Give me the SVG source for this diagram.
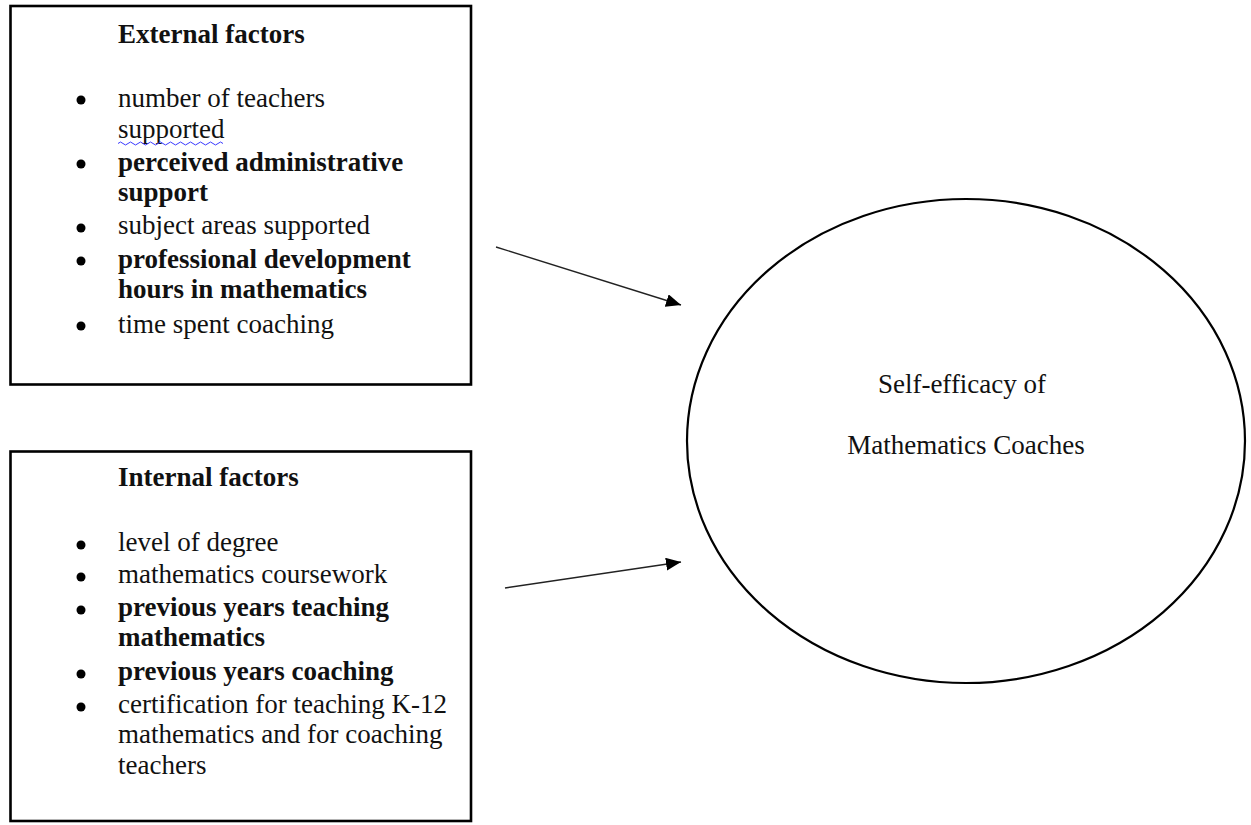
<svg xmlns="http://www.w3.org/2000/svg" width="1251" height="825" viewBox="0 0 1251 825">
<defs>
<marker id="ah" markerWidth="15" markerHeight="13" refX="15" refY="6.5" orient="auto" markerUnits="userSpaceOnUse">
<path d="M0,0 L15,6.5 L0,13 Z" fill="#000"/>
</marker>
<style>
.box{fill:#fff;stroke:#000;stroke-width:2.6}
.t{font-family:"Liberation Serif","Times New Roman",serif;font-size:27px;fill:#111}
.b{font-weight:bold}
.bul{fill:#000}
.conn{stroke:#222;stroke-width:1.4;fill:none}
</style>
</defs>
<rect width="1251" height="825" fill="#fff"/>
<g id="external">
<rect class="box" x="10.5" y="6" width="460.5" height="378.5"/>
<text class="t b" x="118" y="43">External factors</text>
<circle class="bul" cx="81" cy="100" r="4.5"/>
<text class="t" x="118" y="107">number of teachers</text>
<text class="t" x="118" y="138">supported</text>
<path d="M118,143.5 q2.5,-3 5,0 t5,0 t5,0 t5,0 t5,0 t5,0 t5,0 t5,0 t5,0 t5,0 t5,0 t5,0 t5,0 t5,0 t5,0 t5,0 t5,0 t5,0 t5,0 t5,0 t5,0" fill="none" stroke="#3b3bff" stroke-width="1"/>
<circle class="bul" cx="81" cy="164" r="4.5"/>
<text class="t b" x="118" y="171">perceived administrative</text>
<text class="t b" x="118" y="201">support</text>
<circle class="bul" cx="81" cy="228" r="4.5"/>
<text class="t" x="118" y="234">subject areas supported</text>
<circle class="bul" cx="81" cy="261" r="4.5"/>
<text class="t b" x="118" y="268">professional development</text>
<text class="t b" x="118" y="298">hours in mathematics</text>
<circle class="bul" cx="81" cy="326" r="4.5"/>
<text class="t" x="118" y="333">time spent coaching</text>
</g>
<g id="internal">
<rect class="box" x="10.5" y="451.5" width="460.5" height="369.5"/>
<text class="t b" x="118" y="486">Internal factors</text>
<circle class="bul" cx="81" cy="545" r="4.5"/>
<text class="t" x="118" y="551">level of degree</text>
<circle class="bul" cx="81" cy="577" r="4.5"/>
<text class="t" x="118" y="583">mathematics coursework</text>
<circle class="bul" cx="81" cy="610" r="4.5"/>
<text class="t b" x="118" y="616">previous years teaching</text>
<text class="t b" x="118" y="646">mathematics</text>
<circle class="bul" cx="81" cy="674" r="4.5"/>
<text class="t b" x="118" y="680">previous years coaching</text>
<circle class="bul" cx="81" cy="707" r="4.5"/>
<text class="t" x="118" y="713">certification for teaching K-12</text>
<text class="t" x="118" y="743">mathematics and for coaching</text>
<text class="t" x="118" y="774">teachers</text>
</g>
<g id="self-efficacy">
<ellipse cx="966" cy="441" rx="279" ry="242" fill="#fff" stroke="#000" stroke-width="2.2"/>
<text class="t" x="962" y="393" text-anchor="middle">Self-efficacy of</text>
<text class="t" x="966" y="454" text-anchor="middle">Mathematics Coaches</text>
</g>
<g id="connectors">
<line class="conn" x1="496" y1="247" x2="681" y2="305" marker-end="url(#ah)"/>
<line class="conn" x1="505" y1="588" x2="681" y2="562" marker-end="url(#ah)"/>
</g>
</svg>
